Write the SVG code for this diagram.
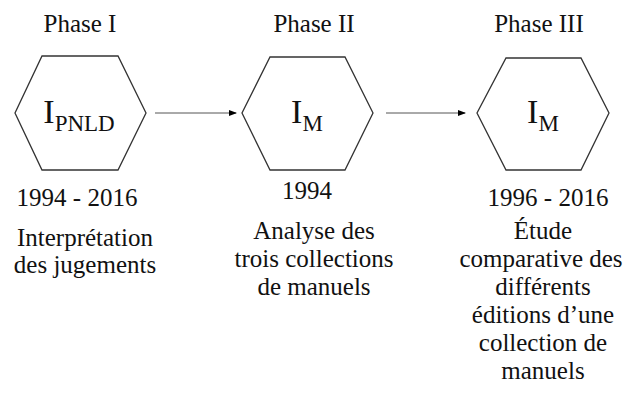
<svg xmlns="http://www.w3.org/2000/svg" width="629" height="394" viewBox="0 0 629 394">
<defs>
<marker id="ah" markerWidth="8" markerHeight="6" refX="7" refY="3" orient="auto" markerUnits="userSpaceOnUse">
<path d="M0,0 L8,3 L0,6 Z" fill="#000"/>
</marker>
<style>
.t{font-family:'Liberation Serif','DejaVu Serif',serif;fill:#111;text-anchor:middle;font-size:25px}
.hex{fill:#fff;stroke:#333;stroke-width:1.3}
.big{font-size:34px}
.sub{font-size:23px}
.con{stroke:#555;stroke-width:1;fill:none}
</style>
</defs>
<rect width="629" height="394" fill="#fff"/>
<g id="phase1" font-family="Liberation Serif, DejaVu Serif, serif">
<text class="t" x="80" y="32">Phase I</text>
<polygon class="hex" points="42,56 118,56 146,113 118,170 42,170 15,113"/>
<text class="t" x="79" y="123"><tspan class="big">I</tspan><tspan class="sub" dy="8">PNLD</tspan></text>
<text class="t" x="77" y="206">1994 - 2016</text>
<text class="t" x="85" y="246">Interprétation</text>
<text class="t" x="85" y="273">des jugements</text>
</g>
<g id="phase2" font-family="Liberation Serif, DejaVu Serif, serif">
<text class="t" x="314" y="32">Phase II</text>
<polygon class="hex" points="270,57 345,57 373,113 345,170 270,170 242,113"/>
<text class="t" x="307" y="123"><tspan class="big">I</tspan><tspan class="sub" dy="8">M</tspan></text>
<text class="t" x="307" y="199">1994</text>
<text class="t" x="314" y="239">Analyse des</text>
<text class="t" x="314" y="267">trois collections</text>
<text class="t" x="314" y="295">de manuels</text>
</g>
<g id="phase3" font-family="Liberation Serif, DejaVu Serif, serif">
<text class="t" x="539" y="32">Phase III</text>
<polygon class="hex" points="506,58 581,58 609,113 581,170 506,170 477,113"/>
<text class="t" x="543" y="123"><tspan class="big">I</tspan><tspan class="sub" dy="8">M</tspan></text>
<text class="t" x="548" y="206">1996 - 2016</text>
<text class="t" x="543" y="239">Étude</text>
<text class="t" x="541" y="267">comparative des</text>
<text class="t" x="543" y="295">différents</text>
<text class="t" x="543" y="323">éditions d’une</text>
<text class="t" x="543" y="351">collection de</text>
<text class="t" x="543" y="379">manuels</text>
</g>
<g id="connectors">
<line class="con" x1="155" y1="113" x2="236" y2="113" marker-end="url(#ah)"/>
<line class="con" x1="386" y1="113" x2="465" y2="113" marker-end="url(#ah)"/>
</g>
</svg>
